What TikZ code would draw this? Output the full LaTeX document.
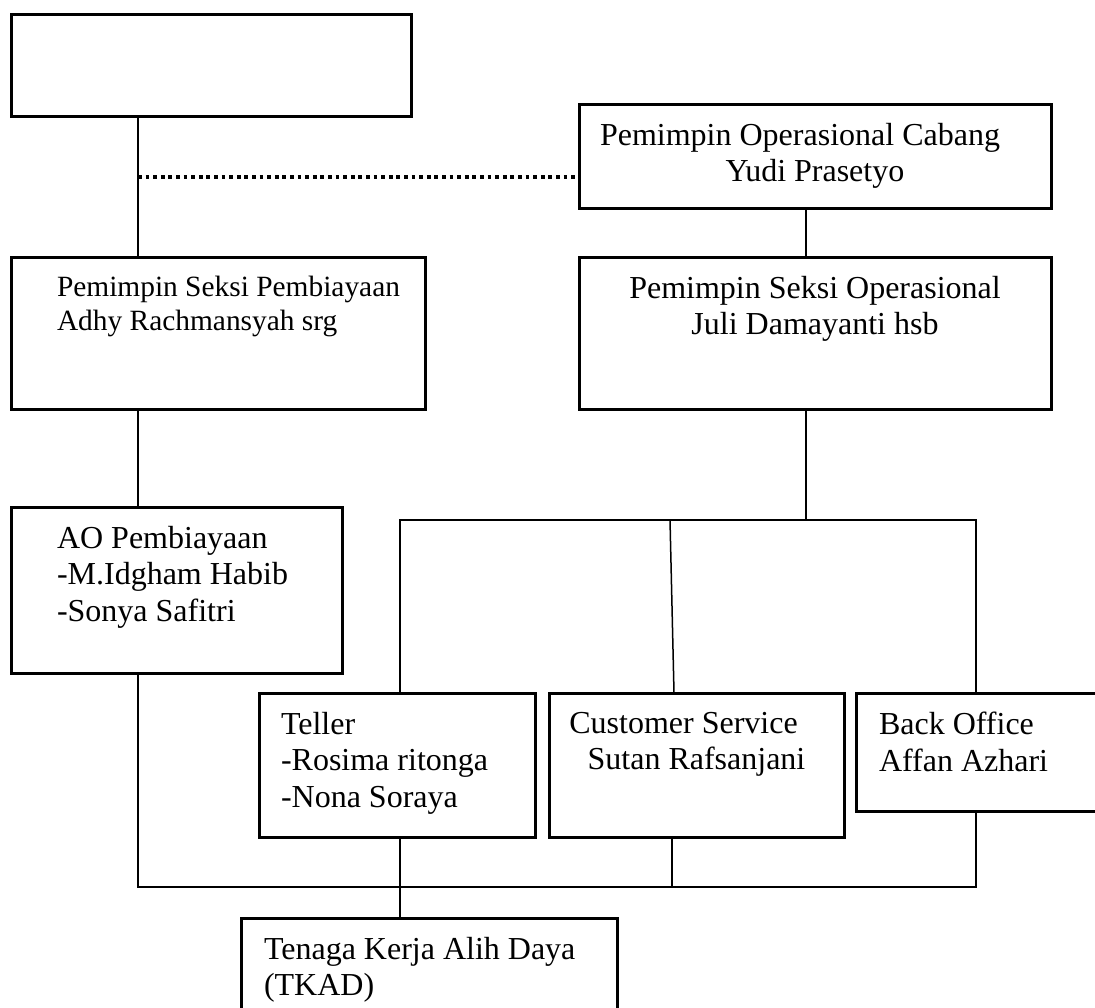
\documentclass[tikz,border=0pt]{standalone}
\usepackage{fontspec}
\setmainfont{Liberation Serif}
\usetikzlibrary{positioning}

\begin{document}
\begin{tikzpicture}[
    x=1pt, y=-1pt,
    font=\fontsize{16}{18.25}\selectfont,
    unit/.style={draw, rectangle, line width=1.5pt, outer sep=0pt, inner sep=0pt, anchor=north west},
    txt/.style={inner sep=0pt, outer sep=0pt, align=left},
    txtc/.style={inner sep=0pt, outer sep=0pt, align=center},
    link/.style={line width=0.75pt},
    dotline/.style={line width=1.75pt, dash pattern=on 1.9pt off 1.9pt}
  ]
    \useasboundingbox (0,0) rectangle (547.5,503.5);
    \clip (0,0) rectangle (547.5,503.5);

    \node[unit, minimum width=200pt, minimum height=51pt] (top) at (5.5,7) {};
    \node[unit, minimum width=236pt, minimum height=52pt, below right=45pt and 84pt of top.north east] (opc) {};
    \node[unit, minimum width=207pt, minimum height=76pt, below right=70.5pt and 0pt of top.south west] (psp) {};
    \node[unit, minimum width=236pt, minimum height=76pt, below right=24.5pt and 0pt of opc.south west] (pso) {};
    \node[unit, minimum width=165.5pt, minimum height=83pt, below right=49pt and 0pt of psp.south west] (ao) {};
    \node[unit, minimum width=138pt, minimum height=72pt, below right=10pt and 124pt of ao.south west] (teller) {};
    \node[unit, minimum width=147.5pt, minimum height=72pt, below right=0pt and 7pt of teller.north east] (cs) {};
    \node[unit, minimum width=130pt, minimum height=59pt, below right=0pt and 6pt of cs.north east] (bo) {};
    \node[unit, minimum width=188pt, minimum height=60pt, below right=40.5pt and -9pt of teller.south west] (tkad) {};

    \node[txtc, below=9.6pt of opc.north] (opc-t)
    {Pemimpin Operasional Cabang\hspace*{15pt}\\Yudi Prasetyo};
    \node[txt, font=\fontsize{14.7}{17}\selectfont, below right=9.4pt and 23pt of psp.north west] (psp-t)
    {Pemimpin Seksi Pembiayaan\\Adhy Rachmansyah srg};
    \node[txtc, below=9.6pt of pso.north] (pso-t)
    {Pemimpin Seksi Operasional\\Juli Damayanti hsb};
    \node[txt, below right=9.6pt and 23pt of ao.north west] (ao-t)
    {AO Pembiayaan\\-M.Idgham Habib\\-Sonya Safitri};
    \node[txt, below right=9.6pt and 11pt of teller.north west] (teller-t)
    {Teller\\-Rosima ritonga\\-Nona Soraya};
    \node[txtc, below=9.6pt of cs.north] (cs-t)
    {Customer Service\hspace*{13pt}\\Sutan Rafsanjani};
    \node[txt, below right=9.6pt and 11.5pt of bo.north west] (bo-t)
    {Back Office\\Affan Azhari};
    \node[txt, below right=9.6pt and 11.5pt of tkad.north west] (tkad-t)
    {Tenaga Kerja Alih Daya\\(TKAD)};

    \coordinate (lspine) at (69,0);
    \coordinate (rspine) at (403,0);
    \coordinate (tcol) at (200,0);
    \coordinate (ccol) at (336,0);
    \coordinate (bcol) at (488,0);
    \coordinate (dotrow) at (0,88.5);
    \coordinate (ubus) at (0,260);
    \coordinate (lbus) at (0,443.5);

    \draw[link] (top.south -| lspine) -- (psp.north -| lspine);
    \draw[dotline] (lspine |- dotrow) -- (opc.west |- dotrow);
    \draw[link] (opc.south -| rspine) -- (pso.north -| rspine);
    \draw[link] (psp.south -| lspine) -- (ao.north -| lspine);
    \draw[link] (pso.south -| rspine) -- (rspine |- ubus);
    \draw[link] (teller.north -| tcol) -- (tcol |- ubus) -- (bcol |- ubus) -- (bo.north -| bcol);
    \draw[link] ([xshift=-1pt]ccol |- ubus) -- ([xshift=1pt]cs.north -| ccol);
    \draw[link] (ao.south -| lspine) -- (lspine |- lbus) -- (bcol |- lbus) -- (bo.south -| bcol);
    \draw[link] (cs.south -| ccol) -- (ccol |- lbus);
    \draw[link] (teller.south -| tcol) -- (tkad.north -| tcol);
  \end{tikzpicture}
\end{document}
